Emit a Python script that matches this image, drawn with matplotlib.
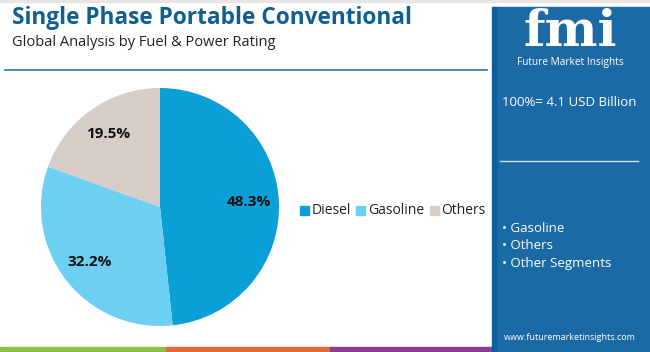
import matplotlib
matplotlib.use("Agg")
import matplotlib.pyplot as plt
from matplotlib.patches import Rectangle
import numpy as np

plt.rcParams['font.family'] = ['Open Sans', 'DejaVu Sans']

segments = ["Diesel", "Gasoline", "Others"]
shares = [48.3, 32.2, 19.5]
colors = ["#0b9fd8", "#6dcff2", "#d6cdc8"]
title = "Single Phase Portable Conventional"
subtitle = "Global Analysis by Fuel & Power Rating"
total_text = "100%= 4.1 USD Billion"
side_items = ["Gasoline", "Others", "Other Segments"]

W, H = 650, 352
fig = plt.figure(figsize=(W / 100, H / 100), dpi=100)

# overlay in pixel coords
bg = fig.add_axes([0, 0, 1, 1])
bg.set_xlim(0, W)
bg.set_ylim(H, 0)
bg.axis("off")

bg.add_patch(Rectangle((0, 0), W, 2, color="#e6e6e6", zorder=1))
bg.text(12, 18, title, fontsize=16.3, fontweight="bold", color="#0f5e94", va="center")
bg.text(12, 42, subtitle, fontsize=10.5, color="#222222", va="center")
bg.plot([5, 487], [70, 70], color="#2f74ad", lw=1.2)

# side panel
bg.add_patch(Rectangle((493, 7), 157, 345, color="#1c6aa5", zorder=1))
bg.add_patch(Rectangle((492, 7), 4, 345, color="#0f5e9c", zorder=2))
bg.text(570, 33, "fmi", fontsize=36, fontweight="bold", family="DejaVu Serif",
        color="white", ha="center", va="center", zorder=3)
bg.text(570, 62, "Future Market Insights", fontsize=7.3, color="white", ha="center", va="center", zorder=3)
bg.text(502, 103, total_text, fontsize=9.5, color="white", va="center", zorder=3)
bg.plot([500, 638], [161, 161], color="#cfe2f1", lw=1, zorder=3)
for i, item in enumerate(side_items):
    bg.text(502, 228 + i * 17.5, "\u2022 " + item, fontsize=9.5, color="white", va="center", zorder=3)
bg.text(570, 337, "www.futuremarketinsights.com", fontsize=6.5, color="white", ha="center", va="center", zorder=3)

# bottom stripes
for x0, x1, c in [(0, 166, "#8cbf45"), (166, 330, "#e46a38"), (330, 493, "#8b3c92")]:
    bg.add_patch(Rectangle((x0, 347), x1 - x0, 5, color=c, zorder=1))

# pie
ax = fig.add_axes([41 / W, (H - 326) / H, 238 / W, 238 / H])
wedges, texts = ax.pie(shares, colors=colors, startangle=90, counterclock=False,
                       wedgeprops=dict(linewidth=0))
for w, s in zip(wedges, shares):
    ang = np.deg2rad((w.theta1 + w.theta2) / 2)
    ax.text(0.75 * np.cos(ang), 0.75 * np.sin(ang), "%.1f%%" % s, ha="center", va="center",
            fontsize=11, fontweight="bold", color="#111111")
ax.set_xlim(-1, 1)
ax.set_ylim(-1, 1)
ax.set_aspect("equal")

# legend
x = 300
for name, c in zip(segments, colors):
    bg.add_patch(Rectangle((x, 206), 9, 9, color=c))
    t = bg.text(x + 12, 211, name, fontsize=10, color="#222222", va="center")
    fig.canvas.draw()
    bb = t.get_window_extent()
    x = bb.x1 + 5

fig.savefig("out.png", dpi=100)
